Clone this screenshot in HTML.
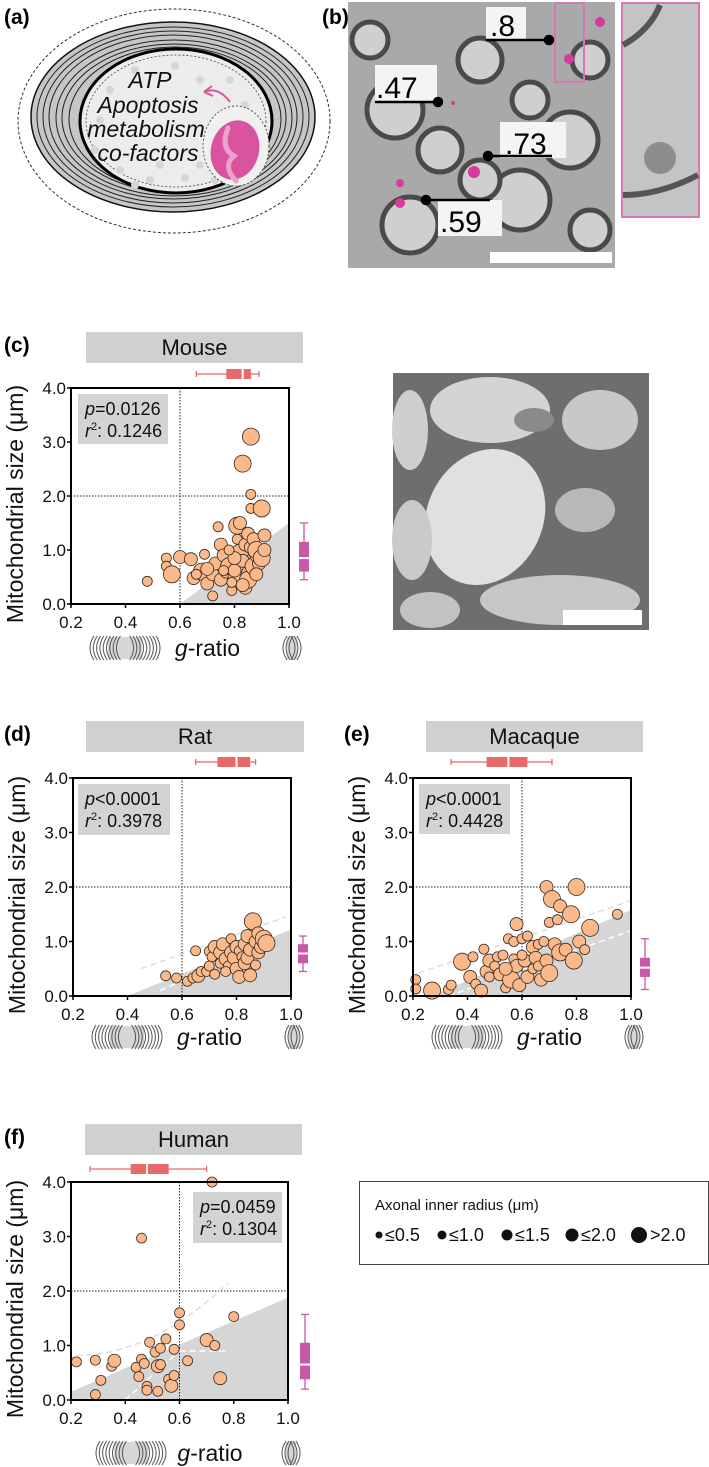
<!DOCTYPE html>
<html><head><meta charset="utf-8">
<style>
html,body{margin:0;padding:0;background:#fff;}
body{width:709px;height:1467px;position:relative;overflow:hidden;font-family:"Liberation Sans",sans-serif;}
svg{position:absolute;left:0;top:0;}
</style></head>
<body>
<svg id="fig" width="709" height="1467" viewBox="0 0 709 1467" xmlns="http://www.w3.org/2000/svg">
  <!-- Panel a -->
  <g>
    <text x="4" y="24" font-size="21" font-weight="bold">(a)</text>
    <ellipse cx="174" cy="121" rx="156" ry="112" fill="none" stroke="#333" stroke-dasharray="3,2" stroke-width="1"/>
    <ellipse cx="173" cy="117" rx="142" ry="95" fill="#c6c6c6" stroke="#111" stroke-width="1.5"/>
    <g fill="none" stroke="#222" stroke-width="1">
      <ellipse cx="173" cy="117" rx="136" ry="90"/><ellipse cx="173" cy="117" rx="130" ry="86"/>
      <ellipse cx="173" cy="117" rx="124" ry="82"/><ellipse cx="174" cy="118" rx="118" ry="78"/>
      <ellipse cx="174" cy="118" rx="112" ry="74"/><ellipse cx="175" cy="119" rx="106" ry="72"/>
    </g>
    <ellipse cx="176" cy="121" rx="96" ry="72" fill="#ececec" stroke="#000" stroke-width="3"/>
    <ellipse cx="176" cy="121" rx="90" ry="66" fill="none" stroke="#444" stroke-dasharray="2,2" stroke-width="0.8"/>
    <g fill="#d6d6d6">
      <circle cx="110" cy="90" r="4"/><circle cx="135" cy="70" r="4"/><circle cx="175" cy="66" r="4"/><circle cx="200" cy="80" r="4"/>
      <circle cx="95" cy="150" r="4"/><circle cx="120" cy="170" r="4"/><circle cx="150" cy="180" r="4"/><circle cx="185" cy="178" r="4"/>
      <circle cx="215" cy="180" r="4"/><circle cx="245" cy="105" r="4"/><circle cx="100" cy="120" r="4"/><circle cx="230" cy="80" r="4"/>
      <circle cx="160" cy="165" r="4"/><circle cx="135" cy="185" r="4"/><circle cx="200" cy="165" r="4"/>
    </g>
    <ellipse cx="236" cy="146" rx="33" ry="40" fill="#f0f0f0" stroke="#333" stroke-dasharray="2,2" stroke-width="0.8"/>
    <ellipse cx="235" cy="150" rx="24" ry="30" fill="#d9539f" transform="rotate(15 235 150)"/>
    <path d="M228 128 q-8 20 6 28 q-12 10 2 25" fill="none" stroke="#eba3cb" stroke-width="5" stroke-linecap="round"/>
    <path d="M230 102 Q218 86 204 92" fill="none" stroke="#d9539f" stroke-width="2"/>
    <path d="M204 92 l8 -6 M204 92 l9 4" stroke="#d9539f" stroke-width="2" fill="none"/>
    <g font-size="23" font-style="italic" fill="#111" text-anchor="middle">
      <text x="150" y="88">ATP</text>
      <text x="148" y="113">Apoptosis</text>
      <text x="146" y="137">metabolism</text>
      <text x="148" y="161">co-factors</text>
    </g>
  </g>
  <!-- Panel b -->
  <g>
    <text x="322" y="24" font-size="21" font-weight="bold">(b)</text>
    <rect x="348" y="2" width="267" height="266" fill="#a9a9a9"/>
    <g fill="#cfcfcf" stroke="#4a4a4a" stroke-width="5">
      <circle cx="395" cy="110" r="28"/><circle cx="480" cy="60" r="22"/><circle cx="440" cy="150" r="22"/>
      <circle cx="520" cy="200" r="30"/><circle cx="410" cy="225" r="28"/><circle cx="570" cy="140" r="28"/>
      <circle cx="480" cy="180" r="20"/><circle cx="590" cy="230" r="20"/><circle cx="530" cy="100" r="18"/>
      <circle cx="370" cy="40" r="18"/><circle cx="590" cy="60" r="18"/>
    </g>
    <g fill="#d63a9a"><circle cx="600" cy="22" r="5"/><circle cx="569" cy="59" r="5"/><circle cx="474" cy="172" r="6"/><circle cx="400" cy="183" r="4"/><circle cx="400" cy="203" r="5"/><circle cx="453" cy="103" r="2"/></g>
    <rect x="555" y="3" width="29" height="79" fill="none" stroke="#d57ab0" stroke-width="2"/>
    <g font-size="30" fill="#000">
      <rect x="486" y="7" width="40" height="32" fill="#f4f4f4"/><text x="490" y="36">.8</text>
      <rect x="375" y="65" width="62" height="36" fill="#f4f4f4"/><text x="376" y="98">.47</text>
      <rect x="500" y="122" width="66" height="36" fill="#f4f4f4"/><text x="505" y="154">.73</text>
      <rect x="438" y="200" width="64" height="36" fill="#f4f4f4"/><text x="440" y="232">.59</text>
    </g>
    <g stroke="#000" stroke-width="2.5" fill="#000">
      <line x1="486" y1="40" x2="549" y2="40"/><circle cx="549" cy="40" r="4"/>
      <line x1="375" y1="102" x2="438" y2="102"/><circle cx="438" cy="102" r="4"/>
      <line x1="488" y1="156" x2="552" y2="156"/><circle cx="488" cy="156" r="4"/>
      <line x1="426" y1="200" x2="490" y2="200"/><circle cx="426" cy="200" r="4"/>
    </g>
    <rect x="490" y="252" width="122" height="11" fill="#fff"/>
    <rect x="622" y="3" width="77" height="214" fill="#c4c4c4" stroke="#d57ab0" stroke-width="2"/>
    <path d="M623 45 Q650 30 660 5" stroke="#555" stroke-width="6" fill="none"/>
    <path d="M623 195 Q660 195 698 175" stroke="#555" stroke-width="6" fill="none"/>
    <circle cx="660" cy="158" r="16" fill="#8d8d8d"/>
  </g>
  <!-- EM image panel c right -->
  <g>
    <rect x="393" y="373" width="256" height="257" fill="#6e6e6e"/>
    <ellipse cx="490" cy="410" rx="60" ry="33" fill="#d4d4d4"/>
    <ellipse cx="485" cy="517" rx="58" ry="70" fill="#e0e0e0" transform="rotate(25 485 517)"/>
    <ellipse cx="600" cy="420" rx="38" ry="30" fill="#c8c8c8"/>
    <ellipse cx="410" cy="430" rx="18" ry="40" fill="#cfcfcf"/>
    <ellipse cx="412" cy="540" rx="20" ry="40" fill="#cacaca"/>
    <ellipse cx="585" cy="510" rx="30" ry="22" fill="#b8b8b8"/>
    <ellipse cx="560" cy="600" rx="80" ry="25" fill="#c6c6c6"/>
    <ellipse cx="430" cy="610" rx="30" ry="18" fill="#c2c2c2"/>
    <ellipse cx="534" cy="420" rx="20" ry="12" fill="#8a8a8a"/>
    <rect x="563" y="610" width="79" height="15" fill="#fff"/>
  </g>
  <!-- Legend -->
  <g>
    <rect x="359.5" y="1181.5" width="349" height="83" fill="#fff" stroke="#444" stroke-width="1"/>
    <text x="375" y="1210" font-size="15" fill="#111">Axonal inner radius (μm)</text>
    <g font-size="18" fill="#111">
      <g><circle cx="379" cy="1235" r="3.5"/><text x="385" y="1241">≤0.5</text></g>
      <g><circle cx="442" cy="1235" r="4.5"/><text x="449" y="1241">≤1.0</text></g>
      <g><circle cx="507" cy="1235" r="5.5"/><text x="515" y="1241">≤1.5</text></g>
      <g><circle cx="572" cy="1235" r="6.5"/><text x="581" y="1241">≤2.0</text></g>
      <g><circle cx="639" cy="1235" r="8"/><text x="650" y="1241">&gt;2.0</text></g>
    </g>
  </g>
</svg>
<script>
// ---- data (g-ratio, mitochondrial size µm, radius class 1..4) ----
const mouseG=[0.48,0.55,0.55,0.57,0.60,0.64,0.65,0.68,0.69,0.70,0.72,0.72,0.73,0.74,0.75,0.75,0.76,0.77,0.78,0.79,0.80,0.80,0.81,0.81,0.82,0.82,0.83,0.83,0.84,0.84,0.85,0.85,0.85,0.86,0.86,0.86,0.86,0.87,0.87,0.88,0.88,0.89,0.90,0.90,0.91,0.91,0.79,0.76,0.70,0.66,0.83,0.88,0.80,0.78];
const mouseSize=[0.42,0.85,0.70,0.55,0.87,0.83,0.48,0.60,0.92,0.38,0.15,0.55,0.75,1.43,1.10,0.45,0.90,0.60,0.70,0.25,0.50,0.62,1.20,1.45,1.50,0.95,0.80,2.60,1.10,0.30,0.58,0.45,1.30,3.10,1.05,2.03,1.77,0.70,1.20,0.90,1.00,0.75,1.77,0.85,1.00,1.27,0.40,0.62,0.65,0.55,0.35,0.55,0.85,1.00];
const mouseR=[2,2,2,4,3,3,3,4,2,3,2,3,3,2,3,3,3,3,4,2,3,3,2,4,3,4,3,4,3,3,3,4,3,4,3,2,2,4,3,3,4,3,4,4,3,3,2,2,3,2,3,3,3,2];
const ratG=[0.54,0.58,0.62,0.64,0.65,0.66,0.67,0.69,0.70,0.71,0.72,0.72,0.74,0.74,0.75,0.76,0.77,0.78,0.78,0.79,0.80,0.80,0.81,0.81,0.82,0.83,0.83,0.84,0.84,0.85,0.85,0.86,0.87,0.87,0.88,0.88,0.89,0.90,0.91,0.76,0.70];
const ratSize=[0.37,0.33,0.27,0.33,0.83,0.37,0.45,0.45,0.82,0.72,0.90,0.40,0.80,0.60,0.95,0.68,0.55,1.05,0.80,0.70,0.90,0.50,0.83,0.35,0.72,0.95,0.60,1.10,0.70,0.85,0.38,1.37,1.00,0.57,1.15,0.80,0.90,1.05,0.97,0.45,0.55];
const ratR=[2,2,2,2,2,3,2,2,2,2,3,2,3,2,3,3,2,2,3,3,3,3,2,3,2,3,3,3,3,3,3,4,3,2,3,3,3,4,4,2,2];
const macaqueG=[0.21,0.21,0.27,0.33,0.34,0.38,0.41,0.42,0.43,0.45,0.46,0.47,0.48,0.48,0.50,0.51,0.52,0.53,0.54,0.55,0.56,0.57,0.57,0.58,0.58,0.59,0.60,0.61,0.62,0.62,0.64,0.64,0.65,0.66,0.66,0.67,0.68,0.69,0.69,0.70,0.70,0.71,0.72,0.73,0.74,0.74,0.76,0.78,0.79,0.80,0.81,0.83,0.85,0.95,0.60,0.54];
const macaqueSize=[0.30,0.13,0.10,0.12,0.20,0.63,0.35,0.72,0.22,0.10,0.86,0.45,0.35,0.65,0.55,0.72,0.40,0.75,0.15,1.05,0.30,0.68,1.00,1.32,0.55,0.20,1.05,0.65,0.35,1.10,0.50,0.90,0.70,0.95,0.55,0.30,1.00,0.65,2.00,1.35,0.42,1.78,0.95,1.40,0.80,1.65,0.85,1.50,0.65,2.00,1.00,0.85,1.25,1.50,0.75,0.50];
const macaqueR=[2,2,4,2,2,4,3,2,2,3,2,3,2,3,2,2,3,2,2,2,4,2,2,3,3,3,2,3,3,2,2,3,3,2,2,3,2,3,3,2,4,4,3,2,4,3,3,4,4,4,3,2,4,2,2,3];
const humanG=[0.72,0.46,0.22,0.29,0.29,0.31,0.35,0.36,0.44,0.45,0.46,0.47,0.48,0.48,0.49,0.51,0.52,0.53,0.53,0.52,0.55,0.56,0.57,0.58,0.58,0.60,0.60,0.63,0.70,0.73,0.75,0.80];
const humanSize=[4.0,2.97,0.70,0.73,0.10,0.36,0.62,0.72,0.60,0.43,0.75,0.67,0.25,0.18,1.06,0.88,0.62,0.95,0.65,0.16,1.12,0.38,0.26,0.45,0.93,1.60,1.38,0.72,1.10,1.00,0.40,1.53];
const humanR=[2,2,2,2,2,2,2,3,2,2,2,2,2,2,2,2,3,2,2,2,2,2,3,2,2,2,2,2,3,2,3,2];
// box plot summaries: [whiskerLow, q1, median, q3, whiskerHigh]
const mouseGBox=[0.66,0.77,0.83,0.86,0.89], mouseSBox=[0.45,0.60,0.85,1.15,1.50];
const ratGBox=[0.65,0.73,0.80,0.85,0.87], ratSBox=[0.45,0.60,0.78,0.95,1.10];
const macaqueGBox=[0.34,0.47,0.55,0.62,0.71], macaqueSBox=[0.12,0.35,0.52,0.70,1.05];
const humanGBox=[0.27,0.42,0.48,0.56,0.70], humanSBox=[0.20,0.38,0.65,1.05,1.57];
const xTicks=[0.2,0.4,0.6,0.8,1.0];
const yTicks=[0,1,2,3,4];
const xTickLabels=["0.2","0.4","0.6","0.8","1.0"];
const yTickLabels=["0.0","1.0","2.0","3.0","4.0"];

const NS="http://www.w3.org/2000/svg";
const fig=document.getElementById('fig');
function mk(tag,attrs,parent){const e=document.createElementNS(NS,tag);for(const k in attrs)e.setAttribute(k,attrs[k]);(parent||fig).appendChild(e);return e;}
const RPX={1:3.2,2:5,3:6.5,4:8.5};

const panels=[
 {key:'mouse',title:'Mouse',label:'(c)',lx:4,L:71,R:289,T:388,B:604,tb:[86,303,332,363],G:mouseG,S:mouseSize,Rc:mouseR,gb:mouseGBox,sb:mouseSBox,boxY:374,boxX:304,stats:[78,394,90,50],p:'=0.0126',r:'0.1246',shade:[[0.6,0],[1.0,1.5]],fits:[],gy:647,my:[88,162]},
 {key:'rat',title:'Rat',label:'(d)',lx:4,L:73,R:291,T:778,B:996,tb:[86,304,721,752],G:ratG,S:ratSize,Rc:ratR,gb:ratGBox,sb:ratSBox,boxY:762,boxX:303,stats:[78,784,92,51],p:'<0.0001',r:'0.3978',shade:[[0.4,0],[1.0,1.22]],fits:[[[0.45,0.5],[0.98,1.45],'#ddd'],[[0.52,0.1],[0.92,1.0],'#fff']],gy:1036,my:[90,164]},
 {key:'macaque',title:'Macaque',label:'(e)',lx:344,L:413,R:631,T:778,B:996,tb:[426,643,721,752],G:macaqueG,S:macaqueSize,Rc:macaqueR,gb:macaqueGBox,sb:macaqueSBox,boxY:762,boxX:645,stats:[419,784,91,50],p:'<0.0001',r:'0.4428',shade:[[0.27,0],[1.0,1.58]],fits:[[[0.22,0.42],[1.0,1.75],'#ddd'],[[0.33,0.0],[1.0,1.2],'#fff']],gy:1036,my:[430,504]},
 {key:'human',title:'Human',label:'(f)',lx:4,L:71,R:288,T:1182,B:1400,tb:[85,302,1124,1155],G:humanG,S:humanSize,Rc:humanR,gb:humanGBox,sb:humanSBox,boxY:1169,boxX:305,stats:[193,1192,89,51],p:'=0.0459',r:'0.1304',shade:[[0.2,0.15],[1.0,1.88]],fits:[[[0.4,0.0],[0.6,0.9],'#fff'],[[0.6,0.9],[0.78,0.9],'#fff']],curve:true,gy:1452,my:[94,168]}
];

panels.forEach(P=>{
  const xs=g=>P.L+(g-0.2)/0.8*(P.R-P.L);
  const ys=s=>P.B-s/4*(P.B-P.T);
  const g=mk('g',{});
  
  
  const lab=mk('text',{x:P.lx,y:P.tb[2]+20,'font-size':21,'font-weight':'bold'},g);
  lab.textContent=P.label;
  
  
  const tb=mk('rect',{x:P.tb[0],y:P.tb[2],width:P.tb[1]-P.tb[0],height:P.tb[3]-P.tb[2],fill:'#d0d0d0'},g);
  
  
  const tt=mk('text',{x:(P.tb[0]+P.tb[1])/2,y:P.tb[3]-8,'font-size':22,'text-anchor':'middle',fill:'#111'},g);
  tt.textContent=P.title;
  
  
  let pts;
  if(P.shade[0][1]>0) pts=[[xs(P.shade[0][0]),ys(P.shade[0][1])],[xs(1),ys(P.shade[1][1])],[xs(1),ys(0)],[xs(P.shade[0][0]),ys(0)]];
  else pts=[[xs(P.shade[0][0]),ys(0)],[xs(1),ys(P.shade[1][1])],[xs(1),ys(0)]];
  const sh=mk('polygon',{points:pts.map(p=>p.join(',')).join(' '),fill:'#d6d6d6'},g);
  
  
  const vl=mk('line',{x1:xs(0.6),x2:xs(0.6),y1:P.T,y2:P.B,stroke:'#222','stroke-width':1,'stroke-dasharray':'1.5,1.5'},g);
  
  
  const hl=mk('line',{x1:P.L,x2:P.R,y1:ys(2),y2:ys(2),stroke:'#222','stroke-width':1,'stroke-dasharray':'1.5,1.5'},g);
  
  
  P.fits.forEach(f=>{
    const l=mk('line',{x1:xs(f[0][0]),y1:ys(f[0][1]),x2:xs(f[1][0]),y2:ys(f[1][1]),stroke:f[2],'stroke-width':1.5,'stroke-dasharray':'6,4'},g);
    
    
  });
  if(P.curve){
    const c=mk('path',{d:`M${xs(0.22)} ${ys(0.82)} Q${xs(0.5)} ${ys(0.82)} ${xs(0.78)} ${ys(2.15)}`,fill:'none',stroke:'#ddd','stroke-width':1.5,'stroke-dasharray':'6,4'},g);
    
    
  }
  P.G.forEach((gv,i)=>{
    const c=mk('circle',{cx:xs(gv),cy:ys(P.S[i]),r:RPX[P.Rc[i]],fill:'#f9b98a',stroke:'#3a2a20','stroke-width':0.8},g);
    
    
  });
  const ax=mk('path',{d:`M${P.L} ${P.T} L${P.R} ${P.T} L${P.R} ${P.B} L${P.L} ${P.B} Z`,fill:'none',stroke:'#000','stroke-width':2},g);
  
  
  xTicks.forEach((t,i)=>{
    mk('line',{x1:xs(t),x2:xs(t),y1:P.B,y2:P.B+4,stroke:'#000','stroke-width':1.5},g);
    const tx=mk('text',{x:xs(t),y:P.B+24,'font-size':17,'text-anchor':'middle',fill:'#111'},g);
    tx.textContent=xTickLabels[i];
    
    
  });
  yTicks.forEach((t,i)=>{
    mk('line',{x1:P.L-4,x2:P.L,y1:ys(t),y2:ys(t),stroke:'#000','stroke-width':1.5},g);
    const ty=mk('text',{x:P.L-5,y:ys(t)+6,'font-size':17,'text-anchor':'end',fill:'#111'},g);
    ty.textContent=yTickLabels[i];
    
    
  });
  const yt=mk('text',{x:0,y:0,'font-size':23,'text-anchor':'middle',fill:'#111',transform:`translate(${P.L-48},${(P.T+P.B)/2+8}) rotate(-90)`},g);
  yt.textContent='Mitochondrial size (μm)';
  
  
  const xt=mk('text',{x:(P.my[1]+P.R)/2-18,y:P.gy+9,'font-size':23,'text-anchor':'middle',fill:'#111'},g);
  xt.innerHTML='<tspan font-style="italic">g</tspan>-ratio';
  
  
  const ms=mk('g',{fill:'none',stroke:'#555','stroke-width':1},g);
  
  
  mk('rect',{x:P.my[0]+20,y:P.gy-10,width:P.my[1]-P.my[0]-40,height:22,fill:'#d6d6d6',stroke:'none'},ms);
  for(let k=0;k<9;k++){
    const xl=P.my[0]+k*3.3, xr=P.my[1]-k*3.3;
    mk('path',{d:`M${xl+6} ${P.gy-11} Q${xl-2} ${P.gy+1} ${xl+6} ${P.gy+13}`},ms);
    mk('path',{d:`M${xr-6} ${P.gy-11} Q${xr+2} ${P.gy+1} ${xr-6} ${P.gy+13}`},ms);
  }
  const rx0=P.R-8;
  mk('rect',{x:rx0+6,y:P.gy-10,width:10,height:22,fill:'#d6d6d6',stroke:'none'},ms);
  for(let k=0;k<3;k++){
    mk('path',{d:`M${rx0+6+k*3} ${P.gy-11} Q${rx0-2+k*3} ${P.gy+1} ${rx0+6+k*3} ${P.gy+13}`},ms);
    mk('path',{d:`M${rx0+16-k*3} ${P.gy-11} Q${rx0+24-k*3} ${P.gy+1} ${rx0+16-k*3} ${P.gy+13}`},ms);
  }
  const bt=mk('g',{stroke:'#e66a6a',fill:'#e66a6a'},g);
  
  
  const b=P.gb, y0=P.boxY;
  mk('line',{x1:xs(b[0]),x2:xs(b[4]),y1:y0,y2:y0,'stroke-width':1.3},bt);
  mk('line',{x1:xs(b[0]),x2:xs(b[0]),y1:y0-3,y2:y0+3,'stroke-width':1.3},bt);
  mk('line',{x1:xs(b[4]),x2:xs(b[4]),y1:y0-3,y2:y0+3,'stroke-width':1.3},bt);
  mk('rect',{x:xs(b[1]),y:y0-5,width:xs(b[3])-xs(b[1]),height:10,stroke:'none'},bt);
  mk('line',{x1:xs(b[2]),x2:xs(b[2]),y1:y0-6,y2:y0+6,stroke:'#fff','stroke-width':2},bt);
  const br=mk('g',{stroke:'#c75aa8',fill:'#c75aa8'},g);
  
  
  const s=P.sb, x0=P.boxX;
  mk('line',{x1:x0,x2:x0,y1:ys(s[0]),y2:ys(s[4]),'stroke-width':1.3},br);
  mk('line',{x1:x0-4,x2:x0+4,y1:ys(s[0]),y2:ys(s[0]),'stroke-width':1.3},br);
  mk('line',{x1:x0-4,x2:x0+4,y1:ys(s[4]),y2:ys(s[4]),'stroke-width':1.3},br);
  mk('rect',{x:x0-5,y:ys(s[3]),width:10,height:ys(s[1])-ys(s[3]),stroke:'none'},br);
  mk('line',{x1:x0-6,x2:x0+6,y1:ys(s[2]),y2:ys(s[2]),stroke:'#fff','stroke-width':2},br);
  const st=mk('g',{},g);
  
  
  mk('rect',{x:P.stats[0],y:P.stats[1],width:P.stats[2],height:P.stats[3],fill:'#d3d3d3'},st);
  const t1=mk('text',{x:P.stats[0]+7,y:P.stats[1]+21,'font-size':18,fill:'#111'},st);
  t1.innerHTML='<tspan font-style="italic">p</tspan>'+P.p.replace('<','&lt;');
  const t2=mk('text',{x:P.stats[0]+7,y:P.stats[1]+43,'font-size':18,fill:'#111'},st);
  t2.innerHTML='<tspan font-style="italic">r</tspan><tspan font-size="11" dy="-7">2</tspan><tspan dy="7">: '+P.r+'</tspan>';
});
</script>
</body></html>
